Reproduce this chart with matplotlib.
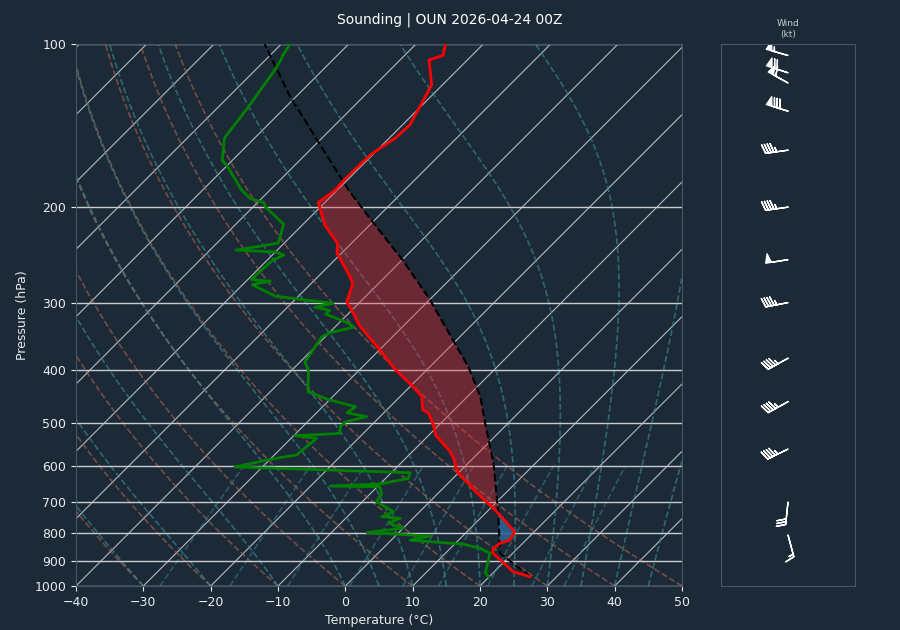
import numpy as np
import matplotlib
matplotlib.use("Agg")
import matplotlib.pyplot as plt
from matplotlib.ticker import NullLocator, FixedLocator, FixedFormatter

BG = "#1c2a38"
FG = "#e8eaec"
EDGE = "#46566a"

# OUN sounding, values (hPa, degC)
pres = [961, 941, 868, 852, 834, 823, 794, 734, 660, 651, 624, 611, 581, 565,
        534, 529, 505, 480, 473, 447, 423, 399, 367, 352, 330, 314, 299, 278,
        272, 243, 233, 216, 204, 196, 186, 179, 160, 149, 141, 119, 107, 105, 100]
temp = [26.0, 22.8, 16.9, 16.4, 16.6, 17.6, 17.1, 11.9, 4.3, 3.5, 0.5, -0.7, -2.9, -4.4,
        -8.1, -8.8, -10.8, -13.3, -14.7, -16.8, -20.5, -24.7, -29.9, -32.6, -36.7, -39.3,
        -42.0, -43.7, -44.6, -50.7, -52.1, -56.6, -59.2, -61.0, -60.3, -60.5, -60.3,
        -59.1, -58.9, -61.6, -65.7, -64.3, -65.6]

pres_td = [961, 945, 902, 870, 852, 837, 823, 809, 797, 782, 766, 750, 745, 729,
           699, 676, 656, 654, 648, 633, 618, 603, 584, 573, 534, 528, 523, 508,
           498, 487, 479, 467, 452, 438, 399, 386, 347, 341, 333, 327, 315, 310,
           306, 301, 297, 292, 278, 274, 272, 251, 245, 242, 240, 233, 215, 200,
           196, 193, 186, 168, 164, 149, 130, 112, 107, 105, 100]
dwpt = [19.9, 18.8, 17.6, 16.6, 14.4, 11.3, 2.8, 5.2, -4.7, 0.0, -2.9, -1.9, -4.9, -3.9,
        -7.9, -8.3, -9.6, -17.1, -10.0, -6.6, -7.2, -34.1, -30.0, -26.7, -26.2, -29.8,
        -23.5, -24.4, -24.4, -22.0, -25.5, -25.1, -30.5, -34.4, -37.6, -39.3, -40.5,
        -39.9, -37.2, -38.7, -43.3, -43.3, -45.9, -43.8, -48.0, -53.4, -58.6, -56.4,
        -59.5, -59.2, -58.3, -60.0, -66.1, -60.9, -62.9, -68.1, -69.1, -71.6, -74.2,
        -79.9, -81.5, -84.5, -85.6, -87.1, -87.7, -88.1, -88.7]

# surface parcel path
pres_parcel = [961, 870, 734, 594, 501, 447, 394, 352, 294, 250, 213, 187, 179,
               152, 125, 100]
parcel = [26.1, 18.1, 11.9, 3.8, -3.4, -8.1, -14.3, -20.5, -30.4, -40.0, -50.0,
          -58.0, -60.5, -69.8, -80.9, -92.5]
lfc_p, el_p, cin_top_p = 734, 179, 834

# winds
wind_p = [105, 113, 118, 133, 157, 200, 250, 300, 380, 457, 559, 700, 805]
wind_dir = [286, 288, 299, 287, 262, 262, 261, 259, 241, 241, 244, 186, 165]
wind_kt = [55, 70, 60, 80, 45, 45, 50, 45, 45, 45, 45, 30, 15]

SKEW = 80.5  # degC of shift per pressure decade -> 45 degree isotherms


def skew_x(t, p):
    return np.asarray(t, float) + SKEW * np.log10(1000.0 / np.asarray(p, float))


def moist_adiabats(t0, p):
    """integrate the pseudo-adiabatic lapse rate (RK4) from 1000 hPa"""
    Rd, Cp, Lv, eps = 287.04, 1005.7, 2.501e6, 0.622

    def dtdp(T, pp):
        es = 6.112 * np.exp(17.67 * (T - 273.15) / (T - 29.65))
        rs = eps * es / (pp - es)
        return (Rd * T + Lv * rs) / (pp * (Cp + Lv * Lv * rs * eps / (Rd * T * T)))

    out = np.empty((len(p), len(t0)))
    T = np.asarray(t0, float) + 273.15
    out[0] = T
    for i in range(1, len(p)):
        h = p[i] - p[i - 1]
        p0 = p[i - 1]
        k1 = dtdp(T, p0)
        k2 = dtdp(T + h / 2 * k1, p0 + h / 2)
        k3 = dtdp(T + h / 2 * k2, p0 + h / 2)
        k4 = dtdp(T + h * k3, p0 + h)
        T = T + h / 6 * (k1 + 2 * k2 + 2 * k3 + k4)
        out[i] = T
    return out - 273.15


fig = plt.figure(figsize=(9, 6.3), dpi=100, facecolor=BG)
ax = fig.add_axes([76 / 900, 44 / 630, 606 / 900, 542 / 630], facecolor=BG)
ax.set_yscale("log")
ax.set_ylim(1000, 100)
ax.set_xlim(-40, 50)

# background lines
p_bg = np.linspace(1000, 100, 181)
for t0 in np.arange(-130, 51, 10):
    ax.plot(skew_x([t0, t0], [1000, 100]), [1000, 100], color="#b4bac0",
            lw=0.8, zorder=1)

for t0 in np.arange(-40, 51, 10):
    t = (t0 + 273.15) * (p_bg / 1000.0) ** 0.2857 - 273.15
    ax.plot(skew_x(t, p_bg), p_bg, color="#b0644c", lw=1.2, ls="--",
            alpha=0.6, zorder=1)

t0_moist = np.concatenate((np.arange(-40, 0, 10), np.arange(0, 51, 5)))
tm = moist_adiabats(t0_moist, p_bg)
for j in range(len(t0_moist)):
    ax.plot(skew_x(tm[:, j], p_bg), p_bg, color="#3a8890", lw=1.2, ls="--",
            alpha=0.65, zorder=1)

p_mix = np.linspace(1000, 600, 30)
for w in [0.0004, 0.001, 0.002, 0.004, 0.007, 0.01, 0.016, 0.024, 0.032]:
    e = p_mix * w / (0.622 + w)
    le = np.log(e / 6.112)
    td = 243.5 * le / (17.67 - le)
    ax.plot(skew_x(td, p_mix), p_mix, color="#3a8890", lw=1.2, ls="--",
            alpha=0.5, zorder=1)

# CAPE / CIN shading, polygons from the profile points
tp, tt = np.array(pres, float), np.array(temp)
pp, pt = np.array(pres_parcel, float), np.array(parcel)
m1 = (tp <= lfc_p) & (tp >= el_p)
m2 = (pp <= lfc_p) & (pp >= el_p)
cape_p = np.concatenate([tp[m1], pp[m2][::-1]])
cape_t = np.concatenate([tt[m1], pt[m2][::-1]])
ax.fill(skew_x(cape_t, cape_p), cape_p, color="#ff2830", alpha=0.35, lw=0, zorder=2)

m1 = (tp <= cin_top_p) & (tp >= lfc_p)
m2 = (pp <= 870) & (pp >= lfc_p)
cin_p = np.concatenate([tp[m1], pp[m2][::-1]])
cin_t = np.concatenate([tt[m1], pt[m2][::-1]])
ax.fill(skew_x(cin_t, cin_p), cin_p, color="#2e6294", alpha=0.9, lw=0, zorder=2)

# profiles
ax.plot(skew_x(parcel, pres_parcel), pres_parcel, color="black", lw=1.5,
        ls="--", zorder=3)
ax.plot(skew_x(temp, pres), pres, color="red", lw=2, zorder=4)
ax.plot(skew_x(dwpt, pres_td), pres_td, color="green", lw=2, zorder=4)

ticks_p = [100, 200, 300, 400, 500, 600, 700, 800, 900, 1000]
ax.yaxis.set_major_locator(FixedLocator(ticks_p))
ax.yaxis.set_major_formatter(FixedFormatter([str(v) for v in ticks_p]))
ax.yaxis.set_minor_locator(NullLocator())
ax.set_xticks(np.arange(-40, 51, 10))
ax.grid(axis="y", color="#c8ccd0", lw=1, zorder=1.5)
ax.tick_params(colors=FG, labelsize=9)
for s in ax.spines.values():
    s.set_color(EDGE)
ax.set_xlabel("Temperature (°C)", color=FG, fontsize=9)
ax.set_ylabel("Pressure (hPa)", color=FG, fontsize=9)

# wind barbs
axw = fig.add_axes([721 / 900, 44 / 630, 134 / 900, 542 / 630], facecolor=BG)
axw.set_yscale("log")
axw.set_ylim(1000, 100)
axw.set_xlim(-1, 1)
axw.yaxis.set_major_locator(NullLocator())
axw.yaxis.set_minor_locator(NullLocator())
axw.set_xticks([])
for s in axw.spines.values():
    s.set_color(EDGE)
rad = np.deg2rad(wind_dir)
spd = np.array(wind_kt, float)
u = -spd * np.sin(rad)
v = -spd * np.cos(rad)
axw.barbs(np.zeros(len(wind_p)), wind_p, u, v, length=5.7, color="white",
          lw=1.0, pivot="tip")
axw.text(0.5, 1.01, "Wind\n(kt)", transform=axw.transAxes, ha="center",
         va="bottom", fontsize=6.5, color="#c8ccd0")

fig.text(0.5, 1 - 20 / 630, "Sounding | OUN 2026-04-24 00Z", ha="center",
         va="center", color="white", fontsize=10)

fig.savefig("out.png", dpi=100, facecolor=BG)
